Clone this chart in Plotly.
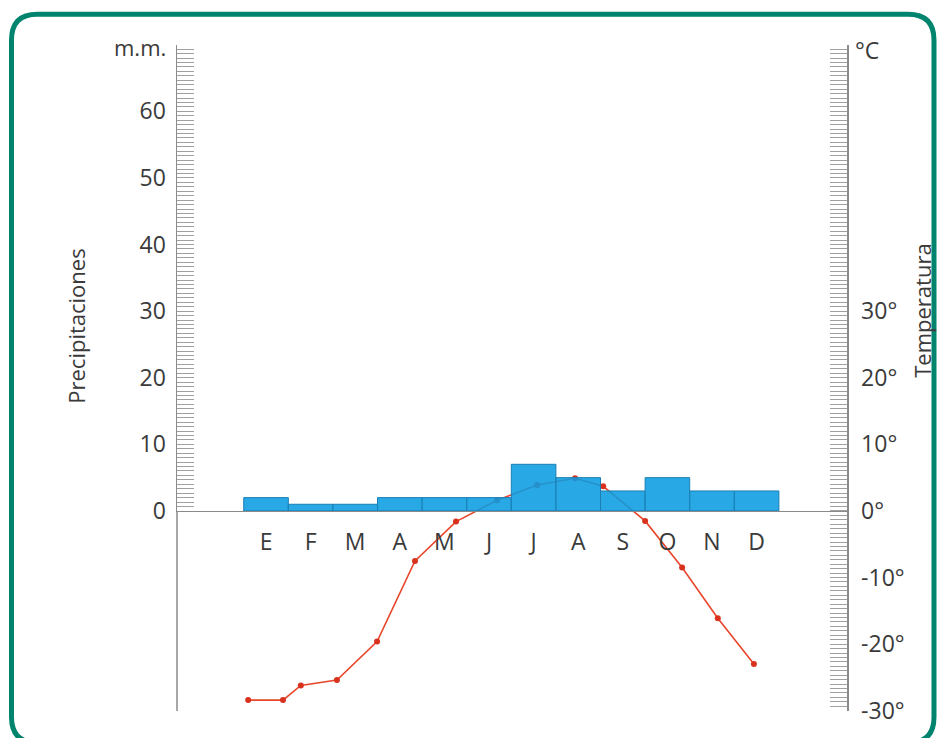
import plotly.graph_objects as go

# ---- data ----
months = ["E", "F", "M", "A", "M", "J", "J", "A", "S", "O", "N", "D"]
month_pos = list(range(12))
precip_mm = [2, 1, 1, 2, 2, 2, 7, 5, 3, 5, 3, 3]

temp_pos = [-0.40, 0.38, 0.78, 1.59, 2.49, 3.34, 4.26, 5.18, 6.08, 6.93, 7.56, 8.50, 9.33, 10.13, 10.94]
temp_c = [-28.4, -28.4, -26.2, -25.4, -19.6, -7.5, -1.6, 1.6, 3.9, 4.9, 3.7, -1.5, -8.5, -16.1, -23.0]

precip_ticks = [0, 10, 20, 30, 40, 50, 60]
temp_ticks = [-30, -20, -10, 0, 10, 20, 30]
temp_ticktext = [f"{v}°" for v in temp_ticks]

# ---- layout geometry ----
W, H = 938, 738
ML, MR, MT, MB = 177, 91, 45, 24
PW, PH = W - ML - MR, H - MT - MB
Y_MIN, Y_MAX = -30.04, 69.96
zero_frac = (0 - Y_MIN) / (Y_MAX - Y_MIN)

def px_x(p):
    return (p - ML) / PW

def px_y(p):
    return (H - MB - p) / PH

FONT = "Open Sans"
TXT = "#3a3a3a"
AX = "#8a8a8a"
COMB = "#a0a0a0"

fig = go.Figure()

fig.add_trace(go.Scatter(
    x=temp_pos, y=temp_c, xaxis="x", yaxis="y",
    mode="lines+markers",
    line=dict(color="#e8462b", width=1.6),
    marker=dict(color="#d8321e", size=6),
    showlegend=False, hoverinfo="skip",
))

fig.add_trace(go.Bar(
    x=month_pos, y=precip_mm, xaxis="x", yaxis="y2",
    width=1.0,
    marker=dict(color="rgba(10,156,224,0.88)", line=dict(color="#1c7fb4", width=1)),
    showlegend=False, hoverinfo="skip",
))

# rounded green frame
L, R, T, B, r = 11.5, 934, 14, 746, 26
def P(x, y):
    return f"{px_x(x):.5f},{px_y(y):.5f}"
frame = (f"M {P(L+r, T)} L {P(R-r, T)} Q {P(R, T)} {P(R, T+r)} "
         f"L {P(R, B-r)} Q {P(R, B)} {P(R-r, B)} L {P(L+r, B)} "
         f"Q {P(L, B)} {P(L, B-r)} L {P(L, T+r)} Q {P(L, T)} {P(L+r, T)} Z")

shapes = [
    dict(type="path", path=frame, xref="paper", yref="paper",
         line=dict(color="#00846e", width=5), fillcolor="rgba(0,0,0,0)", layer="above"),
    dict(type="line", xref="paper", yref="paper", x0=0, x1=0, y0=0, y1=zero_frac,
         line=dict(color=AX, width=1.5), layer="above"),
]

annotations = [
    dict(text="m.m.", x=px_x(168), y=px_y(47), xref="paper", yref="paper",
         xanchor="right", yanchor="middle", showarrow=False,
         font=dict(family=FONT, size=22, color=TXT)),
    dict(text="°C", x=px_x(853), y=px_y(50), xref="paper", yref="paper",
         xanchor="left", yanchor="middle", showarrow=False,
         font=dict(family=FONT, size=23, color=TXT)),
    dict(text="Precipitaciones", x=px_x(76), y=px_y(328), xref="paper", yref="paper",
         xanchor="center", yanchor="middle", textangle=-90, showarrow=False,
         font=dict(family=FONT, size=22, color=TXT)),
    dict(text="Temperatura", x=px_x(922), y=px_y(312), xref="paper", yref="paper",
         xanchor="center", yanchor="middle", textangle=-90, showarrow=False,
         font=dict(family=FONT, size=22, color=TXT)),
]

fig.update_layout(
    width=W, height=H,
    margin=dict(l=ML, r=MR, t=MT, b=MB, pad=0),
    paper_bgcolor="white", plot_bgcolor="rgba(0,0,0,0)",
    bargap=0,
    font=dict(family=FONT, color=TXT),
    xaxis=dict(
        range=[-1.996, 13.027], anchor="y2",
        tickmode="array", tickvals=month_pos, ticktext=months,
        showline=True, linecolor=AX, linewidth=1.5,
        showgrid=False, zeroline=False, ticks="",
        ticklabelstandoff=10,
        tickfont=dict(family=FONT, size=23, color=TXT),
    ),
    yaxis=dict(
        domain=[0, 1], range=[Y_MIN, Y_MAX], side="right", anchor="x",
        tickmode="array", tickvals=temp_ticks, ticktext=temp_ticktext,
        showline=True, linecolor=AX, linewidth=1.5,
        ticks="inside", ticklen=17, tickcolor=COMB, tickwidth=1,
        minor=dict(ticks="inside", ticklen=17, tickcolor=COMB, tickwidth=1,
                   tick0=0, dtick=2/3, showgrid=False),
        showgrid=False, zeroline=False,
        ticklabelstandoff=8,
        tickfont=dict(family=FONT, size=23, color=TXT),
    ),
    yaxis2=dict(
        domain=[zero_frac, 1], range=[0, Y_MAX], side="left", anchor="x",
        tickmode="array", tickvals=precip_ticks,
        showline=True, linecolor=AX, linewidth=1.5,
        ticks="inside", ticklen=17, tickcolor=COMB, tickwidth=1,
        minor=dict(ticks="inside", ticklen=17, tickcolor=COMB, tickwidth=1,
                   tick0=0, dtick=2/3, showgrid=False),
        showgrid=False, zeroline=False,
        ticklabelstandoff=5,
        tickfont=dict(family=FONT, size=23, color=TXT),
    ),
    shapes=shapes,
    annotations=annotations,
)

fig.write_html(
    "out.html",
    config={"displayModeBar": False, "staticPlot": True},
    post_script="document.body.style.margin='0px';document.body.style.overflow='hidden';",
)
